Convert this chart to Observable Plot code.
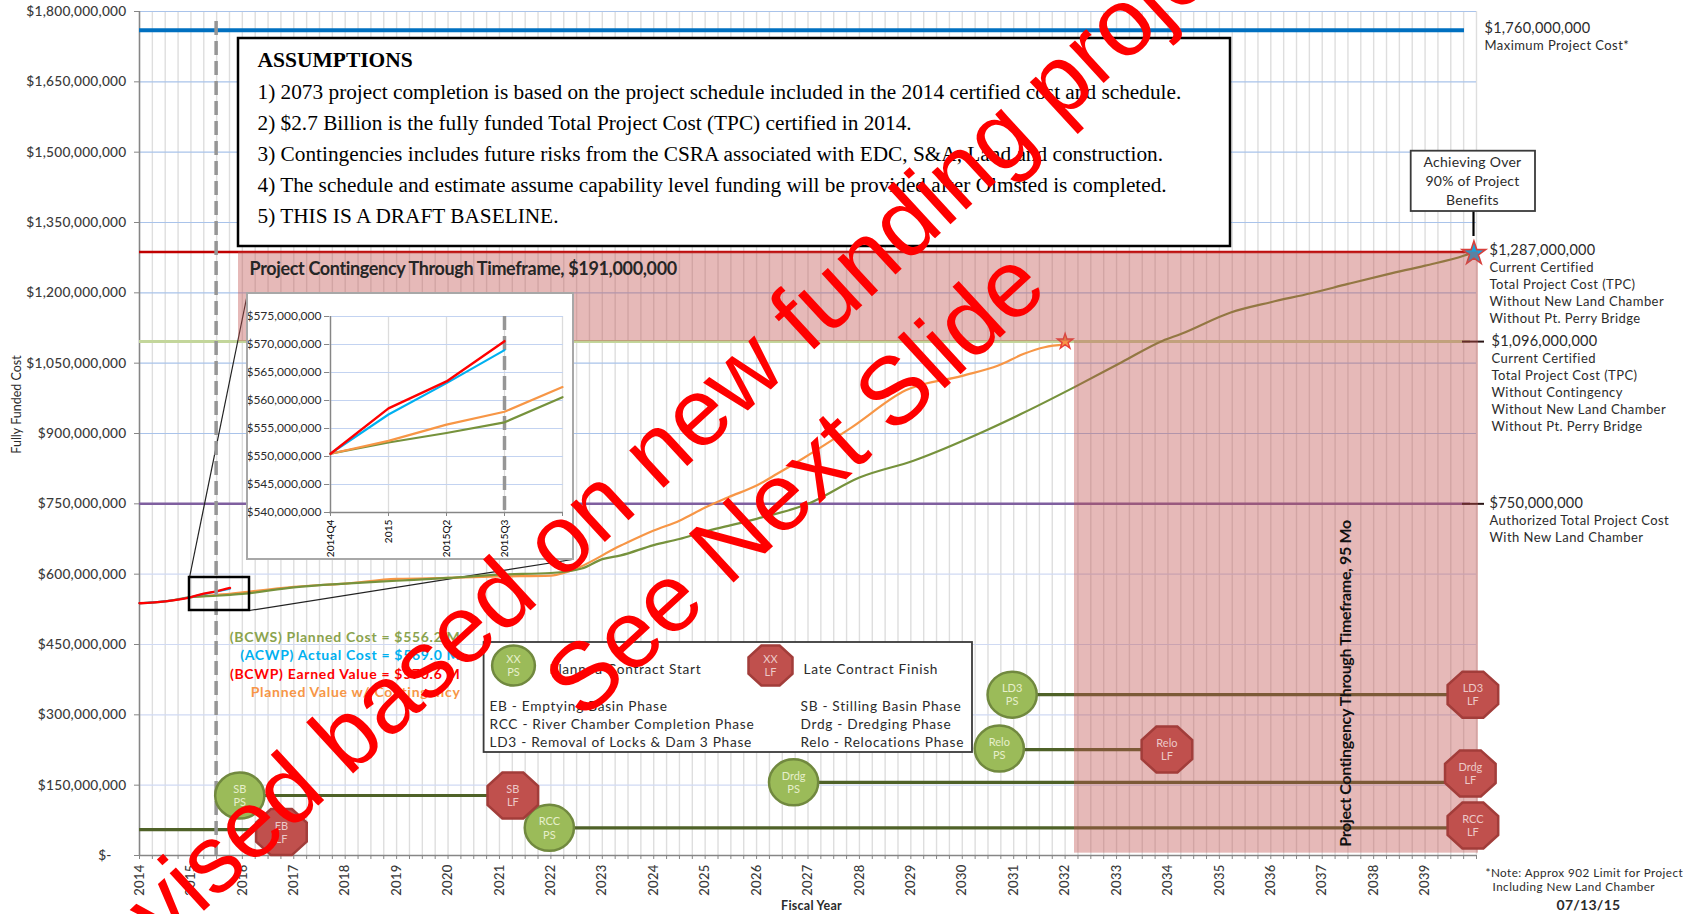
<!DOCTYPE html>
<html><head><meta charset="utf-8">
<script src="https://cdn.jsdelivr.net/npm/d3@7"></script>
<script src="https://cdn.jsdelivr.net/npm/@observablehq/plot@0.6"></script>
<style>
html,body{margin:0;padding:0;background:#fff;width:1688px;height:914px;overflow:hidden}
#stage{position:relative;width:1688px;height:914px}
.sp4 text{letter-spacing:.45px}
.sp3 text{letter-spacing:.25px}
.sp5 text{letter-spacing:.7px}
.tight text{letter-spacing:-.35px}
</style></head><body><div id="stage"></div>
<script>
// ---------- values ----------
const yearTicks = d3.range(2014, 2040);
const quarterTicks = d3.range(2014, 2040.01, 0.25);
const costTicks = d3.range(0, 1801, 150);

const bcwsYears  = [2014,2014.5,2015,2015.5,2015.76,2016,2017,2018,2019,2020,2021,2022,2022.6,2023,2023.36,2024,2024.5,2025,2025.45,2026,2027,2028,2029.05,2030.45,2031.15,2032.2,2033.1,2033.9,2034.25,2035.22,2036,2036.78,2037.5,2038.28,2039,2039.75,2039.95];
const bcwsValues = [538,542,551,554,556,558,572,580,586,592,599,602.5,612,632,640,662,675,691,703,718,750,806,842,906,942,1000,1052,1098,1112,1158,1180,1199,1219,1240,1258,1279,1287];
const plannedYears  = [2015,2015.5,2015.76,2016,2017,2018,2019,2020,2021,2022,2022.3,2023.36,2024,2024.5,2025,2025.45,2026,2026.4,2026.83,2027.85,2028.9,2030,2030.7,2031.2,2031.6,2032];
const plannedValues = [551,556,558,561,573,580,590,592,595,597,604,661,693,714,742,764,789,814,842,913,992,1023,1045,1070,1084,1090];
const acwpYears  = [2014,2014.5,2015,2015.25,2015.5,2015.76];
const acwpValues = [538,542,551,557.5,563,569];
const bcwpValues = [538,542,551,558.6,563.4,570.6];

const limitCosts  = [1760,1287,1096,750];
const limitColors = ["#0070c0","#c00000","#c3d69b","#7f5f9f"];

const phaseStart  = [2014,2015.95,2021.97,2026.72,2030.72,2030.97];
const phaseFinish = [2016.76,2021.26,2039.92,2039.85,2033.98,2039.92];
const phaseCost   = [55,128,59,156,226,343];
const startNames  = ["SB","RCC","Drdg","Relo","LD3"];
const startYears  = [2015.95,2021.97,2026.72,2030.72,2030.97];
const startCosts  = [128,59,156,228,343];
const finishNames = ["EB","SB","Relo","LD3","Drdg","RCC"];
const finishYears = [2016.76,2021.26,2033.98,2039.93,2039.88,2039.93];
const finishCosts = [50,128,226,343,175,64];

const insetQuarters = ["2014Q4","2015","2015Q2","2015Q3",""];
const insetTicks = d3.range(540,576,5);
const insetBcws = [550.5,552.5,554.2,556.1,560.6];
const insetPlanned = [550.5,552.8,555.7,558,562.4];
const insetAcwp = [550.5,557.5,563.1,569];
const insetBcwp = [550.5,558.6,563.4,570.6];

const assumptions = [
 "1) 2073 project completion is based on the project schedule included in the 2014 certified cost and schedule.",
 "2) $2.7 Billion is the fully funded Total Project Cost (TPC) certified in 2014.",
 "3) Contingencies includes future risks from the CSRA associated with EDC, S&A, Land and construction.",
 "4) The schedule and estimate assume capability level funding will be provided after Olmsted is completed.",
 "5) THIS IS A DRAFT BASELINE."];

// ---------- layout ----------
const W=1688,H=914,L=139,R=1476,T=11,B=855;
const xAt=px=>2014+(px-L)/(R-L)*26;
const yAt=py=>(B-py)/(B-T)*1800;
const UI="Lato, 'Noto Sans', sans-serif";
const money=d=>d===0?"$-\u00a0\u00a0\u00a0\u00a0":"$"+d3.format(",")(d*1e6);
const label=(px,py,s,o={})=>Plot.text([s],{x:xAt(px),y:yAt(py),fontFamily:UI,fontSize:13.7,fill:"#2b2b2b",textAnchor:"start",...o});
const ellipse=k=>({draw(c,size){const r=Math.sqrt(size/Math.PI),a=r*k,m=0.5523;
  c.moveTo(a,0);c.bezierCurveTo(a,m*r,m*a,r,0,r);c.bezierCurveTo(-m*a,r,-a,m*r,-a,0);
  c.bezierCurveTo(-a,-m*r,-m*a,-r,0,-r);c.bezierCurveTo(m*a,-r,a,-m*r,a,0);c.closePath();}});
const octagon=k=>({draw(c,size){const r=Math.sqrt(size/Math.PI)/Math.cos(Math.PI/8);
  for(let i=0;i<8;i++){const t=Math.PI/8+i*Math.PI/4,x=k*r*Math.cos(t),y=r*Math.sin(t);i?c.lineTo(x,y):c.moveTo(x,y);}c.closePath();}});
const table=(xs,ys)=>xs.map((x,i)=>({x,y:ys[i]}));
const line=(xs,ys,stroke,w=2)=>Plot.line(table(xs,ys),{x:"x",y:"y",stroke,strokeWidth:w,curve:"monotone-x"});
const hline=(v,x2,stroke,w)=>Plot.ruleY([v],{x1:2014,x2,stroke,strokeWidth:w});
const box=(a,b,c,d,o)=>Plot.rect([0],{x1:xAt(a),x2:xAt(b),y1:yAt(d),y2:yAt(c),...o});
const ms=(names,xs,ys,sym,fill,stroke,txt,suffix,r=23)=>[
  Plot.dot(names.map((n,i)=>({n,x:xs[i],y:ys[i]})),{x:"x",y:"y",r,symbol:sym,fill,stroke,strokeWidth:2.5}),
  Plot.text(names.map((n,i)=>({t:n+"\n"+suffix,x:xs[i],y:ys[i]})),{x:"x",y:"y",text:"t",fill:txt,fontSize:11,fontFamily:UI,lineHeight:1.2})];

const main=Plot.plot({
 width:W,height:H,marginLeft:L,marginRight:W-R,marginTop:T,marginBottom:H-B,
 x:{type:"linear",domain:[2014,2040]},
 y:{type:"linear",domain:[0,1800]},
 marks:[
  Plot.gridX(quarterTicks,{stroke:"#dedede",strokeOpacity:1,strokeWidth:1.4}),
  Plot.gridY(costTicks.filter(d=>d>=900),{stroke:"#a9c3ea",strokeOpacity:1,strokeWidth:1.2}),
  Plot.gridY(costTicks.filter(d=>d<900),{stroke:"#d0daf3",strokeOpacity:1,strokeWidth:1.2}),
  Plot.ruleX([2014],{stroke:"#868686",strokeWidth:1.5}),
  Plot.ruleY([0],{stroke:"#868686",strokeWidth:1.5}),
  Plot.axisY({ticks:costTicks,tickFormat:money,tickSize:5,tickPadding:8,fontFamily:UI,fontSize:13.7,fontWeight:500,label:null,stroke:"#868686",color:"#3a3a3a",className:"sp3"}),
  Plot.axisX({ticks:quarterTicks,tickFormat:d=>Number.isInteger(d)&&d<2040?String(d):"",tickSize:4,tickPadding:5,tickRotate:-90,fontFamily:UI,fontSize:13,fontWeight:500,label:null,stroke:"#868686",color:"#3a3a3a",className:"sp3"}),
  hline(limitCosts[0],xAt(1464),limitColors[0],4),
  hline(limitCosts[1],xAt(1470),limitColors[1],2.5),
  hline(limitCosts[2],xAt(1470),limitColors[2],3),
  hline(limitCosts[3],xAt(1470),limitColors[3],2.5),
  Plot.ruleY([limitCosts[2],limitCosts[3]],{x1:xAt(1462),x2:xAt(1484),stroke:"#2a1515",strokeWidth:2}),
  Plot.ruleY(phaseCost,{x1:phaseStart,x2:phaseFinish,y:phaseCost,stroke:"#4f6228",strokeWidth:3.2}),
  // zoom connectors
  Plot.link([0],{x1:xAt(189),y1:yAt(577),x2:xAt(247),y2:yAt(293),stroke:"#222",strokeWidth:1.2}),
  Plot.link([0],{x1:xAt(249),y1:yAt(610),x2:xAt(572),y2:yAt(559),stroke:"#222",strokeWidth:1.2}),
  // cost curves
  line(plannedYears,plannedValues,"#f79646",2.2),
  line(bcwsYears,bcwsValues,"#76923c",2.2),
  line(acwpYears,acwpValues,"#00b0f0",2),
  line(acwpYears,bcwpValues,"#ff0000",2.4),
  Plot.dot([[2032,1096]],{x:"0",y:"1",symbol:"star",r:4.9,fill:"#f79646",stroke:"#e8403a",strokeWidth:1.4}),
  Plot.dot([[2039.95,1284]],{x:"0",y:"1",symbol:"star",r:7.4,fill:"#17a3dc",stroke:"#d8403c",strokeWidth:1.6}),
  // contingency regions
  Plot.rect([0],{x1:xAt(238),x2:xAt(1478),y1:limitCosts[2],y2:limitCosts[1],fill:"#c0504d",fillOpacity:.4}),
  Plot.rect([0],{x1:xAt(1074),x2:xAt(1478),y1:5,y2:limitCosts[2],fill:"#c0504d",fillOpacity:.4}),
  // status date and zoom box
  Plot.ruleX([2015.49],{y1:0,y2:1788,stroke:"#969696",strokeWidth:3.5,strokeDasharray:"14 6"}),
  box(189,249,577,610,{fill:"none",stroke:"#000",strokeWidth:2.5}),
  // milestones
  ...ms(startNames,startYears,startCosts,ellipse(1.07),"#9bbb59","#71893f","#e6efcb","PS"),
  ...ms(finishNames,finishYears,finishCosts,octagon(1.1),"#c0504d","#a23d3a","#ecc9c8","LF"),
  // assumptions
  box(238,1230,38,246,{fill:"#fff",stroke:"#000",strokeWidth:2.5}),
  label(257,60,"ASSUMPTIONS",{fontFamily:"Liberation Serif",fontWeight:"bold",fontSize:21.5,fill:"#000"}),
  ...assumptions.map((s,i)=>label(257,92+i*30.9,s,{fontFamily:"Liberation Serif",fontSize:21.3,fill:"#000"})),
  label(249,268.5,"Project Contingency Through Timeframe, $191,000,000",{fontWeight:"bold",fontSize:18,fill:"#262626",className:"tight"}),
  label(1345,683,"Project Contingency Through Timeframe, 95 Mo",{fontWeight:"bold",fontSize:16,fill:"#111",rotate:-90,textAnchor:"middle",className:"tight"}),
  // phase legend
  box(483.6,972,642,752,{fill:"#fff",stroke:"#3a3a3a",strokeWidth:1.8}),
  ...ms(["XX"],[xAt(513)],[yAt(665)],ellipse(1.07),"#9bbb59","#71893f","#e6efcb","PS",20),
  ...ms(["XX"],[xAt(770)],[yAt(665)],octagon(1.1),"#c0504d","#a23d3a","#ecc9c8","LF",20),
  label(549,669,"Planned Contract Start",{className:"sp5"}),
  label(803,669,"Late Contract Finish",{className:"sp5"}),
  label(489,706,"EB - Emptying Basin Phase",{className:"sp5"}),
  label(489,724,"RCC - River Chamber Completion Phase",{className:"sp5"}),
  label(489,742,"LD3 - Removal of Locks & Dam 3 Phase",{className:"sp5"}),
  label(800,706,"SB - Stilling Basin Phase",{className:"sp5"}),
  label(800,724,"Drdg - Dredging Phase",{className:"sp5"}),
  label(800,742,"Relo - Relocations Phase",{className:"sp5"}),
  // earned value labels
  label(460,636.7,"(BCWS) Planned Cost = $556.2 M",{textAnchor:"end",fill:"#8aa34e",fontSize:14,fontWeight:"bold",className:"sp5"}),
  label(460,654.7,"(ACWP) Actual Cost = $569.0 M",{textAnchor:"end",fill:"#00b0f0",fontSize:14,fontWeight:"bold",className:"sp5"}),
  label(460,673.7,"(BCWP) Earned Value = $570.6 M",{textAnchor:"end",fill:"#ff0000",fontSize:14,fontWeight:"bold",className:"sp5"}),
  label(460,692,"Planned Value w/ Contingency",{textAnchor:"end",fill:"#f79646",fontSize:14,fontWeight:"bold",className:"sp5"}),
  // right-hand labels
  label(1484,28,"$1,760,000,000",{fontSize:14.5,className:"sp3"}),
  label(1484,45,"Maximum Project Cost*",{fontSize:13,className:"sp4"}),
  label(1489,250,"$1,287,000,000",{fontSize:14.5,className:"sp3"}),
  ...["Current Certified","Total Project Cost (TPC)","Without New Land Chamber","Without Pt. Perry Bridge"].map((s,i)=>label(1489,267+i*17,s,{fontSize:13,className:"sp4"})),
  label(1491,341,"$1,096,000,000",{fontSize:14.5,className:"sp3"}),
  ...["Current Certified","Total Project Cost (TPC)","Without Contingency","Without New Land Chamber","Without Pt. Perry Bridge"].map((s,i)=>label(1491,358.7+i*16.9,s,{fontSize:13,className:"sp4"})),
  label(1489,503,"$750,000,000",{fontSize:14.5,className:"sp3"}),
  label(1489,520.7,"Authorized Total Project Cost",{fontSize:13,className:"sp4"}),
  label(1489,537.5,"With New Land Chamber",{fontSize:13,className:"sp4"}),
  // callout
  Plot.ruleX([xAt(1473)],{y1:yAt(211),y2:yAt(236),stroke:"#000",strokeWidth:2.2}),
  box(1410.7,1535,150.7,211,{fill:"#fff",stroke:"#3a3a3a",strokeWidth:1.8}),
  ...["Achieving Over","90% of Project","Benefits"].map((s,i)=>label(1472,162.5+i*18.6,s,{textAnchor:"middle",fontSize:14,className:"sp3"})),
  // footers and titles
  label(16,404,"Fully Funded Cost",{rotate:-90,textAnchor:"middle",fontSize:12.5}),
  label(811,905,"Fiscal Year",{textAnchor:"middle",fontWeight:"bold",fontSize:12.5,className:"sp3"}),
  label(1485,872.7,"*Note: Approx 902 Limit for Project",{fontSize:11.7,className:"sp4"}),
  label(1492,887,"Including New Land Chamber",{fontSize:11.7,className:"sp4"}),
  label(1588,905,"07/13/15",{textAnchor:"middle",fontWeight:"bold",fontSize:14,className:"sp3"})
 ]
});
main.style.cssText="position:absolute;left:0;top:0;background:transparent;max-width:none";
document.getElementById("stage").appendChild(main);

// ---------- zoomed inset ----------
const qLine=(vals,stroke,w=2)=>Plot.line(vals.map((v,i)=>({q:insetQuarters[i],v})),{x:"q",y:"v",stroke,strokeWidth:w});
const inset=Plot.plot({
 width:326,height:266,marginLeft:82,marginRight:10,marginTop:23,marginBottom:47,
 x:{type:"point",domain:insetQuarters,padding:0},
 y:{type:"linear",domain:[540,575]},
 marks:[
  Plot.gridX(insetQuarters,{stroke:"#dcdcdc",strokeOpacity:1,strokeWidth:1.3}),
  Plot.gridY(insetTicks,{stroke:"#c3d3f1",strokeOpacity:1,strokeWidth:1.2}),
  Plot.ruleX(["2014Q4"],{stroke:"#868686",strokeWidth:1.4}),
  Plot.ruleY([540],{stroke:"#868686",strokeWidth:1.4}),
  Plot.axisY({ticks:insetTicks,tickFormat:d=>"$"+d3.format(",")(d*1e6),tickSize:5,tickPadding:3,fontFamily:UI,fontSize:12,label:null,stroke:"#868686",color:"#2b2b2b"}),
  Plot.axisX({tickRotate:-90,tickSize:4,tickPadding:3,fontFamily:UI,fontSize:10.2,fontWeight:500,label:null,stroke:"#868686",color:"#111"}),
  Plot.ruleX(["2015Q3"],{stroke:"#969696",strokeWidth:3.5,strokeDasharray:"14 6"}),
  qLine(insetBcws,"#76923c",2.2),
  qLine(insetPlanned,"#f79646",2.2),
  qLine(insetAcwp,"#00b0f0",2.2),
  qLine(insetBcwp,"#ff0000",2.4)
 ]
});
inset.style.cssText="position:absolute;left:247px;top:293px;background:#fff;outline:2px solid #a8a8a8;outline-offset:-1px;max-width:none";
document.getElementById("stage").appendChild(inset);

// ---------- overlay stamp ----------
const stamp=(px,py,s)=>Plot.text([s],{x:xAt(px),y:yAt(py),fontFamily:"Liberation Sans",fontSize:96,fill:"#ff0000",rotate:-42.6,textAnchor:"start",lineAnchor:"bottom"});
const overlay=Plot.plot({
 width:W,height:H,marginLeft:L,marginRight:W-R,marginTop:T,marginBottom:H-B,
 x:{type:"linear",domain:[2014,2040],axis:null},
 y:{type:"linear",domain:[0,1800],axis:null},
 marks:[
  stamp(73,1030,"Revised based on new funding projections"),
  stamp(582,721,"See Next Slide")
 ]
});
overlay.style.cssText="position:absolute;left:0;top:0;background:transparent;pointer-events:none;max-width:none";
document.getElementById("stage").appendChild(overlay);
</script></body></html>
